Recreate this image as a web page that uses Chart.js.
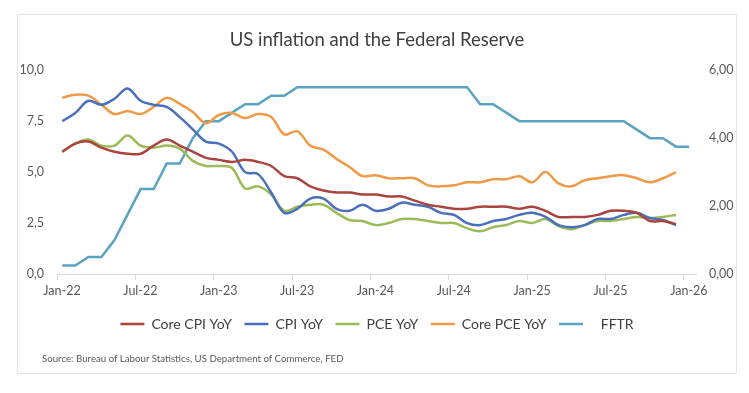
<!DOCTYPE html>
<html>
<head>
<meta charset="utf-8">
<script src="https://cdn.jsdelivr.net/npm/chart.js@4"></script>
<style>
  body { margin: 0; background: #fff; }
  #frame { position: absolute; left: 17px; top: 14px; width: 720px; height: 360px; border: 1px solid #e4e4e4; box-sizing: border-box; }
  #chart { position: absolute; left: 0; top: 0; }
  #source { position: absolute; left: 24px; top: 337px; font: 9.7px Lato, sans-serif; color: #595959; white-space: nowrap; }
</style>
</head>
<body>
<div id="frame">
  <canvas id="chart" width="718" height="358"></canvas>
  <div id="source">Source: Bureau of Labour Statistics, US Department of Commerce, FED</div>
</div>
<script>
// monthly, Jan-22 onwards
const tickLabels = ["Jan-22", "Jul-22", "Jan-23", "Jul-23", "Jan-24", "Jul-24", "Jan-25", "Jul-25", "Jan-26"];

const coreCpi = [
  6.0, 6.4, 6.5, 6.2, 6.0, 5.9, 5.9, 6.3, 6.6, 6.3, 6.0, 5.7,
  5.6, 5.5, 5.6, 5.5, 5.3, 4.8, 4.7, 4.3, 4.1, 4.0, 4.0, 3.9,
  3.9, 3.8, 3.8, 3.6, 3.4, 3.3, 3.2, 3.2, 3.3, 3.3, 3.3, 3.2,
  3.3, 3.1, 2.8, 2.8, 2.8, 2.9, 3.1, 3.1, 3.0, 2.6, 2.6, 2.45
];
const cpi = [
  7.5, 7.9, 8.5, 8.3, 8.6, 9.1, 8.5, 8.3, 8.2, 7.7, 7.1, 6.5,
  6.4, 6.0, 5.0, 4.9, 4.0, 3.0, 3.2, 3.7, 3.7, 3.2, 3.1, 3.4,
  3.1, 3.2, 3.5, 3.4, 3.3, 3.0, 2.9, 2.5, 2.4, 2.6, 2.7, 2.9,
  3.0, 2.8, 2.4, 2.3, 2.4, 2.7, 2.7, 2.9, 3.0, 2.75, 2.65, 2.4
];
const pce = [
  6.0, 6.4, 6.6, 6.3, 6.3, 6.8, 6.3, 6.2, 6.3, 6.15, 5.55, 5.3,
  5.3, 5.2, 4.2, 4.3, 3.9, 3.1, 3.3, 3.4, 3.4, 3.0, 2.65, 2.6,
  2.4, 2.5, 2.7, 2.7, 2.6, 2.5, 2.5, 2.25, 2.1, 2.3, 2.4, 2.6,
  2.5, 2.7, 2.35, 2.2, 2.4, 2.6, 2.6, 2.7, 2.8, 2.75, 2.8, 2.9
];
const corePce = [
  8.65, 8.8, 8.75, 8.3, 7.85, 8.0, 7.85, 8.2, 8.65, 8.35, 7.95, 7.4,
  7.8, 7.9, 7.65, 7.85, 7.7, 6.85, 7.0, 6.3, 6.1, 5.65, 5.25, 4.8,
  4.85, 4.7, 4.7, 4.7, 4.35, 4.3, 4.35, 4.5, 4.5, 4.65, 4.65, 4.8,
  4.5, 5.0, 4.45, 4.3, 4.6, 4.7, 4.8, 4.85, 4.7, 4.5, 4.7, 5.0
];
// fed funds target rate (upper bound), right axis
const fftr = [
  0.25, 0.25, 0.5, 0.5, 1.0, 1.75, 2.5, 2.5, 3.25, 3.25, 4.0, 4.5,
  4.5, 4.75, 5.0, 5.0, 5.25, 5.25, 5.5, 5.5, 5.5, 5.5, 5.5, 5.5,
  5.5, 5.5, 5.5, 5.5, 5.5, 5.5, 5.5, 5.5, 5.0, 5.0, 4.75, 4.5,
  4.5, 4.5, 4.5, 4.5, 4.5, 4.5, 4.5, 4.5, 4.25, 4.0, 4.0, 3.75,
  3.75
];

const FONT = "Lato, 'Noto Sans', sans-serif";
const GREY = "#595959";

function toPoints(values) {
  return values.map((v, i) => ({ x: i, y: v }));
}

function makeLine(label, values, color, axis, tension) {
  return {
    label: label,
    data: toPoints(values),
    borderColor: color,
    backgroundColor: color,
    borderWidth: 2.5,
    pointRadius: 0,
    tension: tension,
    yAxisID: axis,
    fill: false,
  };
}

const ctx = document.getElementById("chart").getContext("2d");
const chart = new Chart(ctx, {
  type: "line",
  data: {
    datasets: [
      makeLine("Core CPI YoY", coreCpi, "#a9443f", "y", 0.35),
      makeLine("CPI YoY", cpi, "#4a70bd", "y", 0.35),
      makeLine("PCE YoY", pce, "#9bbb59", "y", 0.35),
      makeLine("Core PCE YoY", corePce, "#ef9a48", "y", 0.35),
      makeLine("   FFTR", fftr, "#5ba3c2", "y1", 0),
    ],
  },
  options: {
    responsive: false,
    animation: false,
    layout: { padding: { left: 0, right: 0, top: 0, bottom: 32 } },
    plugins: {
      title: {
        display: true,
        text: "US inflation and the Federal Reserve",
        color: "#404040",
        font: { family: FONT, size: 18.5, weight: "normal" },
        padding: { top: 14, bottom: 19 },
      },
      legend: {
        position: "bottom",
        labels: {
          usePointStyle: true,
          pointStyle: "line",
          pointStyleWidth: 24,
          color: "#404040",
          font: { family: FONT, size: 14 },
          padding: 12.5,
        },
      },
      tooltip: { enabled: false },
    },
    scales: {
      x: {
        type: "linear",
        min: -0.4,
        max: 48.53,
        afterBuildTicks: (axis) => {
          axis.ticks = tickLabels.map((t, k) => ({ value: k * 6 - 0.4 }));
        },
        afterFit: (axis) => { axis.height = 30.5; },
        ticks: {
          callback: (value, index) => tickLabels[index],
          labelOffset: 5,
          padding: 3,
          maxRotation: 0,
          autoSkip: false,
          color: GREY,
          font: { family: FONT, size: 12.5 },
        },
        grid: { drawOnChartArea: false, tickLength: 6, color: "#d9d9d9" },
        border: { color: "#d9d9d9" },
      },
      y: {
        position: "left",
        min: 0,
        max: 10,
        afterFit: (axis) => { axis.width = 39; },
        ticks: {
          stepSize: 2.5,
          padding: 13,
          color: GREY,
          font: { family: FONT, size: 12.5 },
          callback: (v) => v.toFixed(1).replace(".", ","),
        },
        grid: { display: false, drawTicks: false },
        border: { display: false },
      },
      y1: {
        position: "right",
        min: 0,
        max: 6,
        afterFit: (axis) => { axis.width = 40; },
        ticks: {
          stepSize: 2,
          padding: 13,
          color: GREY,
          font: { family: FONT, size: 12.5 },
          callback: (v) => v.toFixed(2).replace(".", ","),
        },
        grid: { display: false, drawTicks: false },
        border: { display: false },
      },
    },
  },
});
</script>
</body>
</html>
